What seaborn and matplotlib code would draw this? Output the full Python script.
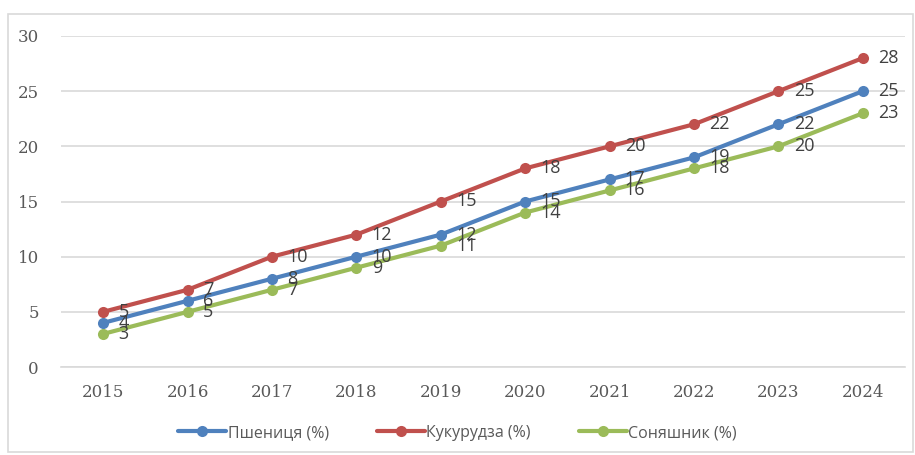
import matplotlib
matplotlib.use("Agg")
import matplotlib.pyplot as plt
import seaborn as sns
import pandas as pd
from matplotlib.patches import Rectangle

years = [2015, 2016, 2017, 2018, 2019, 2020, 2021, 2022, 2023, 2024]
wheat = [4, 6, 8, 10, 12, 15, 17, 19, 22, 25]
corn = [5, 7, 10, 12, 15, 18, 20, 22, 25, 28]
sunflower = [3, 5, 7, 9, 11, 14, 16, 18, 20, 23]
seriesNames = ["Пшениця (%)", "Кукурудза (%)", "Соняшник (%)"]
seriesColors = ["#4F81BD", "#C0504D", "#9BBB59"]

sns.set_style("white")
plt.rcParams['font.family'] = ['DejaVu Serif']

df = pd.DataFrame({"year": [str(y) for y in years] * 3,
                   "value": wheat + corn + sunflower,
                   "series": [seriesNames[0]] * 10 + [seriesNames[1]] * 10 + [seriesNames[2]] * 10})

fig = plt.figure(figsize=(9.15, 4.55), dpi=100)
ax = fig.add_axes([61 / 915, 1 - 367 / 455, (905 - 61) / 915, (367 - 36) / 455])

sns.lineplot(data=df, x="year", y="value", hue="series", palette=seriesColors,
             marker="o", markersize=8, markeredgewidth=0, linewidth=3, ax=ax,
             sort=False, legend=True)

# data labels to the right of each point
for vals, name in zip([wheat, corn, sunflower], seriesNames):
    for i, v in enumerate(vals):
        ax.annotate(str(v), (i, v), xytext=(11, 0), textcoords="offset points",
                    va="center", ha="left", fontsize=13, color="#404040",
                    family="Open Sans")

ax.set_xlim(-0.5, len(years) - 0.5)
ax.set_ylim(0, 30)
ax.set_yticks(range(0, 31, 5))
ax.yaxis.grid(True, color="#D9D9D9", linewidth=1.2)
ax.set_axisbelow(True)
for s in ["top", "right", "left"]:
    ax.spines[s].set_visible(False)
ax.spines["bottom"].set_color("#D9D9D9")
ax.spines["bottom"].set_linewidth(1.2)
ax.tick_params(axis="both", length=0, labelsize=12, labelcolor="#595959", pad=12)
ax.tick_params(axis="y", pad=16)
ax.set_xlabel("")
ax.set_ylabel("")

handles, labels = ax.get_legend_handles_labels()
ax.legend(handles, labels, loc="center", bbox_to_anchor=(0.5, 1 - 433 / 455),
          bbox_transform=fig.transFigure, ncol=3, frameon=False,
          prop={"family": "Open Sans", "size": 11.5},
          handlelength=3, handletextpad=0.1, columnspacing=3,
          labelcolor="#595959")

fig.patches.append(Rectangle((8 / 915, 1 - 452 / 455), 905 / 915, 438 / 455,
                             transform=fig.transFigure, fill=False,
                             edgecolor="#D9D9D9", linewidth=1.2))

fig.savefig("out.png", dpi=100)
